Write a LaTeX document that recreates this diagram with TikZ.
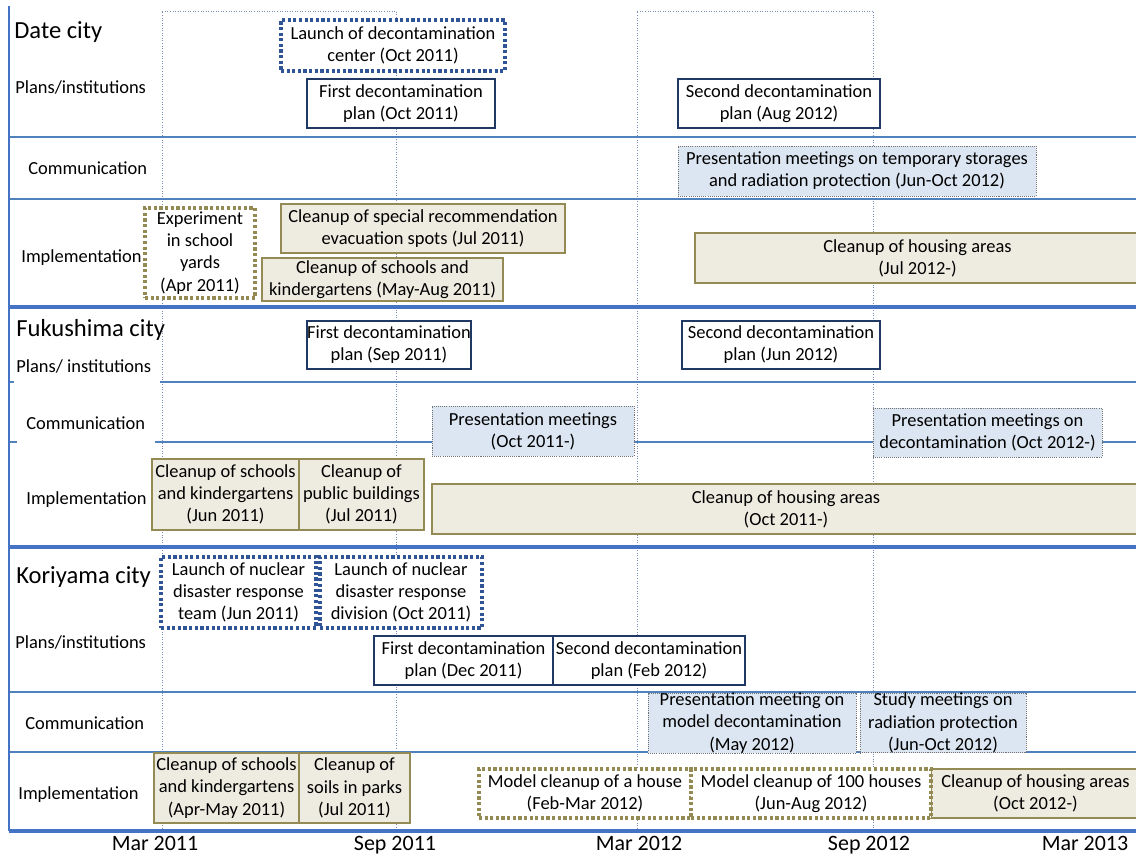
\documentclass[tikz,border=0pt]{standalone}
\usepackage{fontspec}
\setmainfont{Carlito}
\definecolor{gridblue}{RGB}{79,129,189}
\definecolor{thickblue}{RGB}{68,114,196}
\definecolor{navy}{RGB}{31,56,100}
\definecolor{launchblue}{RGB}{47,85,151}
\definecolor{commfill}{RGB}{220,230,242}
\definecolor{tanfill}{RGB}{238,236,225}
\definecolor{tanline}{RGB}{148,138,84}
\definecolor{monthgrid}{RGB}{120,140,185}
% box from (x1,y1) to (x2,y2), in picture units
\newcommand{\tlbox}[7]{%
  \node[#1, minimum width={(#5-#3)*0.02cm}, minimum height={(#6-#4)*0.02cm}]
    (#2) at ({(#3+#5)/2},{(#4+#6)/2}) {#7};}
\begin{document}
\begin{tikzpicture}[x=0.02cm, y=-0.02cm,
  every node/.style={inner sep=0pt, font=\fontsize{10.5}{12.6}\selectfont},
  plan/.style={draw=navy, line width=0.7pt, fill=white, align=center},
  launch/.style={draw=launchblue, line width=1.8pt, dash pattern=on 1.8pt off 1.4pt, fill=white, align=center},
  comm/.style={draw=black!55, line width=0.4pt, dash pattern=on 0.6pt off 0.6pt, fill=commfill, align=center},
  work/.style={draw=tanline, line width=0.6pt, fill=tanfill, align=center},
  trial/.style={draw=tanline, line width=1.8pt, dash pattern=on 1.8pt off 1.4pt, fill=white, align=center},
  city/.style={anchor=west, font=\fontsize{14}{16}\selectfont},
  row/.style={anchor=west},
  month/.style={anchor=base, font=\fontsize{12.5}{15}\selectfont},
  sepline/.style={gridblue, line width=0.6pt},
  cityline/.style={thickblue, line width=1.8pt},
  monthline/.style={monthgrid, line width=0.45pt, densely dotted}]
  \useasboundingbox (0,0) rectangle (1136,855);

  % Time grid
  \draw[monthline] (162,831) -- (162,11) -- (396,11) -- (396,831);
  \draw[monthline] (637,831) -- (637,11) -- (873,11) -- (873,831);

  % Row separators
  \draw[sepline] (9,137) -- (1136,137);
  \draw[sepline] (9,199) -- (1136,199);
  \draw[sepline] (160,382) -- (1136,382);
  \draw[sepline] (155,442) -- (1136,442);
  \draw[sepline] (9,382) -- (14,382);
  \draw[sepline] (9,442) -- (17,442);
  \draw[sepline] (9,692) -- (1136,692);
  \draw[sepline] (9,752) -- (1136,752);

  % City separators and frame
  \draw[thickblue, line width=1.2pt] (9,6) -- (9,831);
  \draw[cityline] (9,307) -- (1136,307);
  \draw[cityline] (9,547) -- (1136,547);
  \draw[cityline] (9,831) -- (1136,831);

  % Date city
  \node[city] (date) at (14,32) {Date city};
  \node[row] (dateplan) at (15,87) {Plans/institutions};
  \node[row] (datecomm) at (28,168) {Communication};
  \node[row] (dateimpl) at (21,258) {Implementation};
  \tlbox{launch}{dcenter}{281}{20}{505}{71}{Launch of decontamination\\center (Oct 2011)}
  \tlbox{plan}{dfirst}{307}{79}{495}{128}{First decontamination\\plan (Oct 2011)}
  \tlbox{plan}{dsecond}{678}{79}{880}{128}{Second decontamination\\plan (Aug 2012)}
  \tlbox{comm}{dmeet}{678}{146}{1036}{196}{Presentation meetings on temporary storages\\and radiation protection (Jun-Oct 2012)}
  \tlbox{trial}{dexp}{145}{208}{255}{298}{Experiment\\in school\\yards\\(Apr 2011)}
  \tlbox{work}{dspots}{281}{204}{565}{253}{Cleanup of special recommendation\\evacuation spots (Jul 2011)}
  \tlbox{work}{dschools}{262}{258}{503}{301}{Cleanup of schools and\\kindergartens (May-Aug 2011)}
  \tlbox{work}{dhousing}{695}{233}{1140}{283}{Cleanup of housing areas\\(Jul 2012-)}

  % Fukushima city
  \node[city] (fuku) at (16,330) {Fukushima city};
  \node[row] (fukuplan) at (16,366) {Plans/ institutions};
  \node[row] (fukucomm) at (26,423) {Communication};
  \node[row] (fukuimpl) at (26,500) {Implementation};
  \tlbox{plan}{ffirst}{307}{321}{471}{369}{First decontamination\\plan (Sep 2011)}
  \tlbox{plan}{fsecond}{682}{321}{880}{369}{Second decontamination\\plan (Jun 2012)}
  \tlbox{comm}{fmeet}{432}{406}{634}{456}{Presentation meetings\\(Oct 2011-)}
  \tlbox{comm}{fmeetdec}{873}{408}{1102}{457}{Presentation meetings on\\decontamination (Oct 2012-)}
  \tlbox{work}{fschools}{152}{459}{299}{530}{Cleanup of schools\\and kindergartens\\(Jun 2011)}
  \tlbox{work}{fpublic}{299}{459}{424}{530}{Cleanup of\\public buildings\\(Jul 2011)}
  \tlbox{work}{fhousing}{432}{484}{1140}{534}{Cleanup of housing areas\\(Oct 2011-)}

  % Koriyama city
  \node[city] (kori) at (16,577) {Koriyama city};
  \node[row] (koriplan) at (15,642) {Plans/institutions};
  \node[row] (koricomm) at (25,723) {Communication};
  \node[row] (koriimpl) at (18,795) {Implementation};
  \tlbox{launch}{kteam}{161}{557}{316}{628}{Launch of nuclear\\disaster response\\team (Jun 2011)}
  \tlbox{launch}{kdivision}{320}{557}{482}{628}{Launch of nuclear\\disaster response\\division (Oct 2011)}
  \tlbox{plan}{kfirst}{374}{636}{553}{685}{First decontamination\\plan (Dec 2011)}
  \tlbox{plan}{ksecond}{553}{636}{745}{685}{Second decontamination\\plan (Feb 2012)}
  \tlbox{comm}{kmodel}{648}{694}{856}{752}{Presentation meeting on\\model decontamination\\(May 2012)}
  \tlbox{comm}{kstudy}{860}{694}{1026}{752}{Study meetings on\\radiation protection\\(Jun-Oct 2012)}
  \tlbox{work}{kschools}{154}{753}{299}{823}{Cleanup of schools\\and kindergartens\\(Apr-May 2011)}
  \tlbox{work}{kparks}{299}{753}{410}{823}{Cleanup of\\soils in parks\\(Jul 2011)}
  \tlbox{work}{khousing}{931}{769}{1140}{818}{Cleanup of housing areas\\(Oct 2012-)}
  \tlbox{trial}{khouse}{479}{769}{691}{818}{Model cleanup of a house\\(Feb-Mar 2012)}
  \tlbox{trial}{khouses}{691}{769}{931}{818}{Model cleanup of 100 houses\\(Jun-Aug 2012)}

  % Time axis
  \node[month] (mar11) at (155,850) {Mar 2011};
  \node[month] (sep11) at (395,850) {Sep 2011};
  \node[month] (mar12) at (639,850) {Mar 2012};
  \node[month] (sep12) at (869,850) {Sep 2012};
  \node[month] (mar13) at (1085,850) {Mar 2013};
\end{tikzpicture}
\end{document}
